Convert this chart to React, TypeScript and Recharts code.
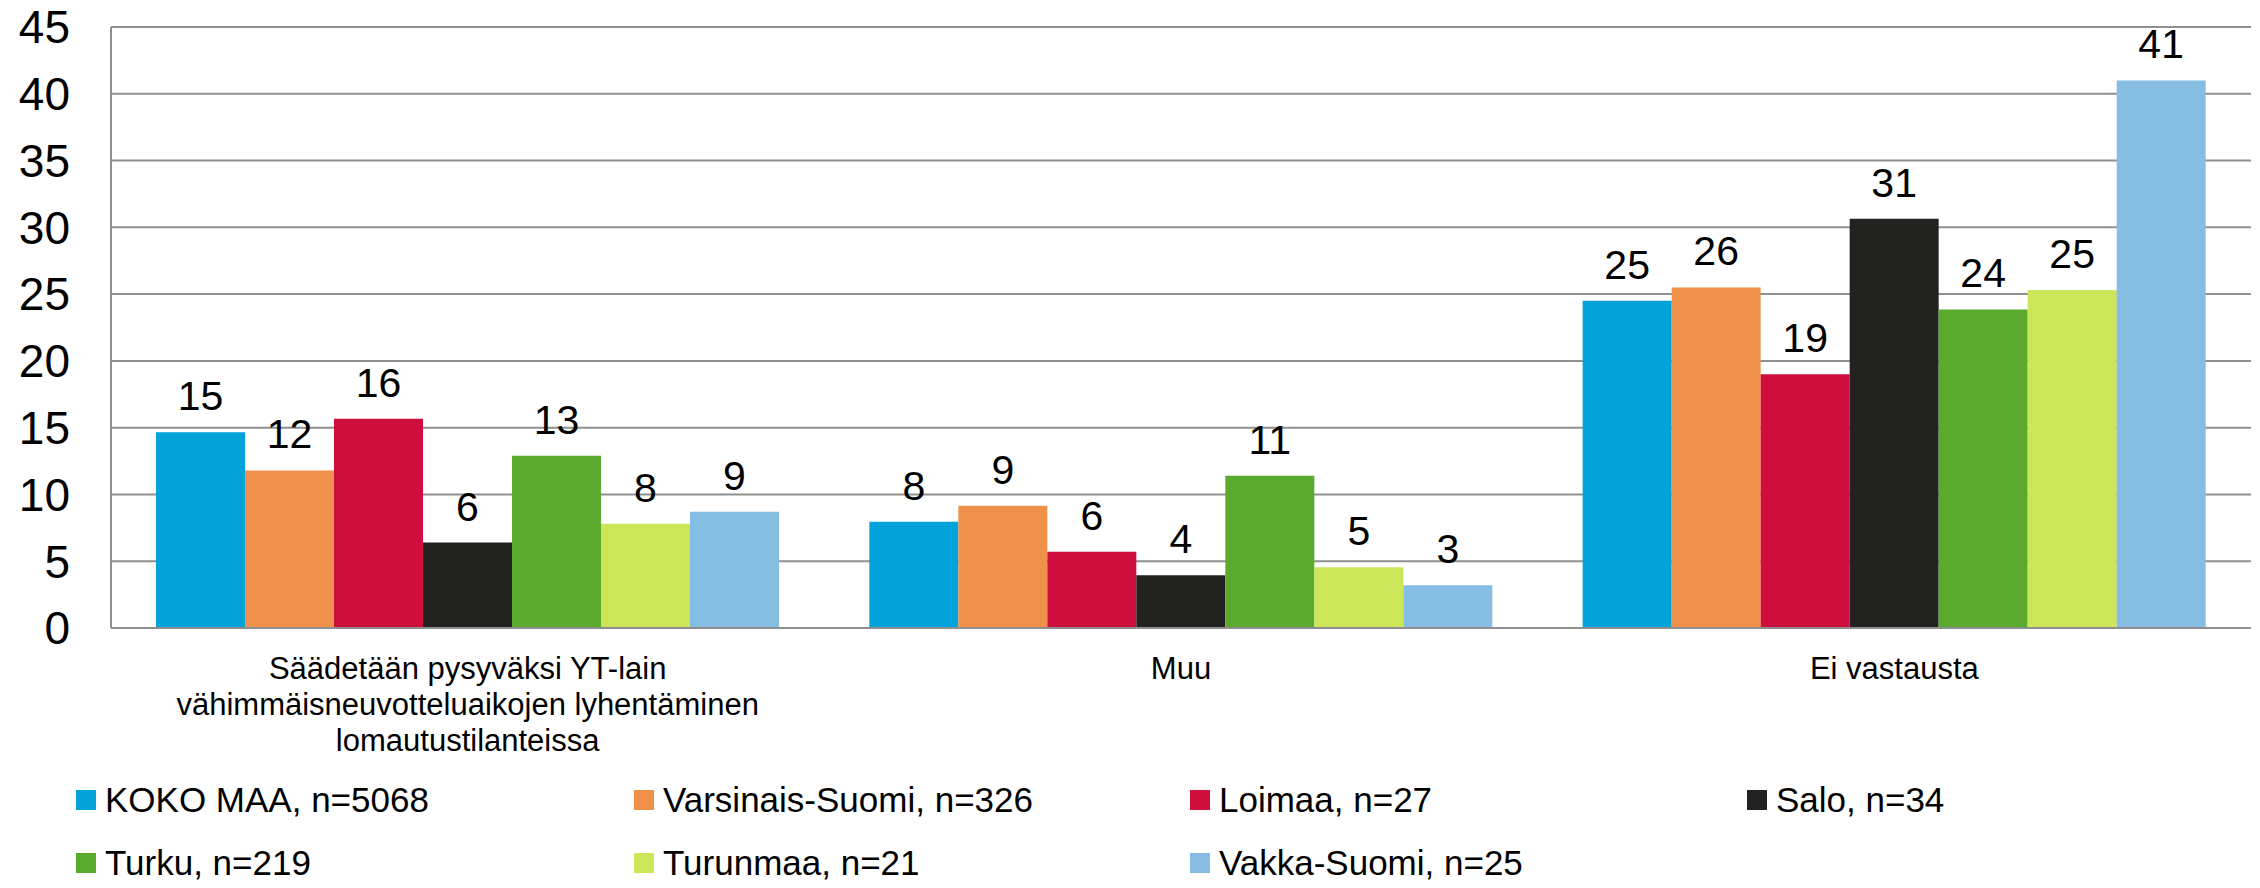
import { BarChart, Bar, XAxis, YAxis, CartesianGrid, Legend, LabelList } from 'recharts';

const categories = [
  'Säädetään pysyväksi YT-lain\nvähimmäisneuvotteluaikojen lyhentäminen\nlomautustilanteissa',
  'Muu',
  'Ei vastausta',
];

const kokoMaa = [14.65, 7.95, 24.5];
const varsinaisSuomi = [11.8, 9.15, 25.5];
const loimaa = [15.66, 5.7, 19.0];
const salo = [6.4, 3.95, 30.65];
const turku = [12.9, 11.4, 23.85];
const turunmaa = [7.8, 4.55, 25.3];
const vakkaSuomi = [8.7, 3.2, 41.0];

const yTicks = [0, 5, 10, 15, 20, 25, 30, 35, 40, 45];

const seriesList = [
  { key: 'kokoMaa', name: 'KOKO MAA, n=5068', color: '#02A3DA', values: kokoMaa },
  { key: 'varsinaisSuomi', name: 'Varsinais-Suomi, n=326', color: '#F0914B', values: varsinaisSuomi },
  { key: 'loimaa', name: 'Loimaa, n=27', color: '#CE0F3E', values: loimaa },
  { key: 'salo', name: 'Salo, n=34', color: '#222220', values: salo },
  { key: 'turku', name: 'Turku, n=219', color: '#5AAA2D', values: turku },
  { key: 'turunmaa', name: 'Turunmaa, n=21', color: '#CCE65A', values: turunmaa },
  { key: 'vakkaSuomi', name: 'Vakka-Suomi, n=25', color: '#86BDE2', values: vakkaSuomi },
];

const data = categories.map((category, i) => {
  const row: Record<string, string | number> = { category };
  seriesList.forEach(s => {
    row[s.key] = s.values[i];
  });
  return row;
});

const FONT = 'Arial, "Liberation Sans", sans-serif';

const CategoryTick = (props: any) => {
  const { x, y, payload } = props;
  const lines = String(payload.value).split('\n');
  return (
    <text x={x} y={y} textAnchor="middle" fontFamily={FONT} fontSize={31} fill="#000">
      {lines.map((line, i) => (
        <tspan key={i} x={x} dy={i === 0 ? 51 : 36}>
          {line}
        </tspan>
      ))}
    </text>
  );
};

const LegendBox = () => {
  const colX = [76, 634, 1190, 1747];
  return (
    <div style={{ position: 'relative', width: 2260, height: 118, fontFamily: FONT }}>
      {seriesList.map((s, i) => {
        const col = i % 4;
        const row = Math.floor(i / 4);
        return (
          <div
            key={s.key}
            style={{
              position: 'absolute',
              left: colX[col],
              top: 10 + row * 63,
              height: 40,
              display: 'flex',
              alignItems: 'center',
              whiteSpace: 'nowrap',
            }}
          >
            <span style={{ width: 20, height: 20, background: s.color, display: 'inline-block', marginRight: 9 }} />
            <span style={{ fontSize: 35, color: '#000', lineHeight: '40px' }}>{s.name}</span>
          </div>
        );
      })}
    </div>
  );
};

export default function App() {
  return (
    <div style={{ position: 'absolute', left: 0, top: 0, background: '#fff' }}>
      <BarChart
        width={2260}
        height={888}
        data={data}
        margin={{ top: 27, right: 9, left: 0, bottom: 22 }}
        barCategoryGap={45}
        barGap={0}
      >
        <CartesianGrid vertical={false} stroke="#8F8F8F" strokeWidth={2} />
        <XAxis
          dataKey="category"
          tickLine={false}
          tickSize={0}
          tickMargin={0}
          axisLine={{ stroke: '#8F8F8F', strokeWidth: 2 }}
          tick={<CategoryTick />}
          height={120}
          interval={0}
        />
        <YAxis
          domain={[0, 45]}
          ticks={yTicks}
          width={111}
          tickLine={false}
          tickSize={0}
          tickMargin={41}
          axisLine={{ stroke: '#8F8F8F', strokeWidth: 2 }}
          tick={{ fontSize: 46, fill: '#000', fontFamily: FONT }}
          interval={0}
        />
        <Legend
          verticalAlign="bottom"
          content={<LegendBox />}
          wrapperStyle={{ position: 'absolute', left: 0, top: 770, width: 2260, height: 118 }}
        />
        {seriesList.map(s => (
          <Bar key={s.key} dataKey={s.key} name={s.name} fill={s.color} isAnimationActive={false}>
            <LabelList
              dataKey={s.key}
              position="top"
              offset={22}
              formatter={(v: any) => Math.round(Number(v))}
              style={{ fontSize: 41, fill: '#000', fontFamily: FONT }}
            />
          </Bar>
        ))}
      </BarChart>
    </div>
  );
}
